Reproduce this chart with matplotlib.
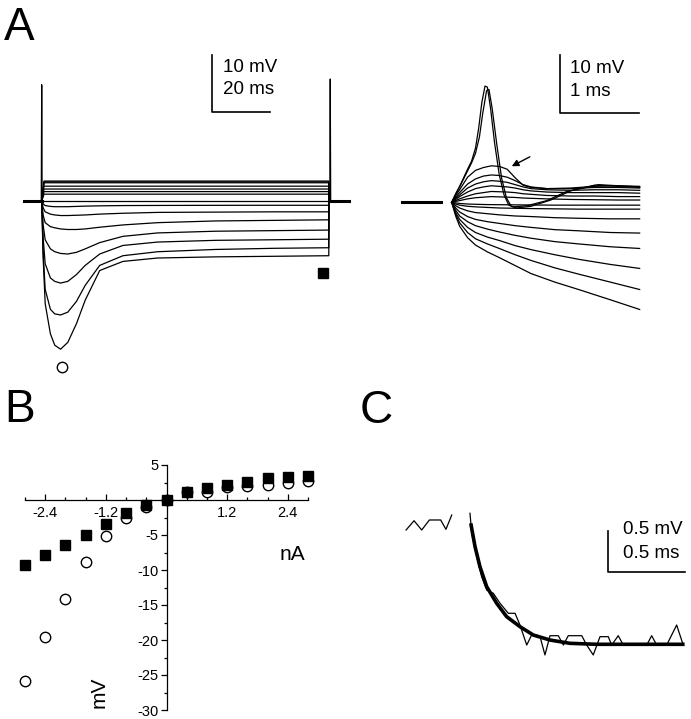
import matplotlib.pyplot as plt

plt.rcParams['font.family'] = ['Liberation Sans', 'DejaVu Sans']

W, H = 691, 719

# ---------------- Panel A (left): 100 ms current steps, time in ms, voltage in mV
a_pre_t = [-6, 0]
a_post_t = [99, 106]
# depolarising / zero steps: steady-state level
a_dep_levels = [3.5, 3.35, 3.2, 2.6, 2.1, 1.65, 1.2, 0.0]
# hyperpolarising steps: common time samples and voltages
a_hyp_t = [0, 0.5, 1.2, 3, 4.5, 6.5, 9, 12, 15, 20, 28, 40, 60, 80, 99]
a_hyp_v = [
    [0, -10, -18, -23.3, -25.3, -26, -24.8, -21.5, -17.4, -12.2, -10.6, -10.0, -9.8, -9.7, -9.6],
    [0, -9, -15.5, -19, -19.8, -20, -19.5, -17.6, -14.8, -11.3, -9.6, -8.9, -8.5, -8.3, -8.2],
    [0, -6.5, -11, -13.5, -14.1, -14.4, -14.1, -12.9, -11.3, -9.3, -7.8, -7.2, -6.9, -6.8, -6.7],
    [0, -4.2, -6.8, -8.4, -8.9, -9.2, -9.3, -9.0, -8.4, -7.3, -6.2, -5.6, -5.3, -5.2, -5.1],
    [0, -2.5, -3.8, -4.5, -4.7, -4.9, -5.0, -5.0, -4.9, -4.6, -4.2, -3.8, -3.5, -3.4, -3.3],
    [0, -1.2, -1.9, -2.3, -2.45, -2.55, -2.55, -2.5, -2.45, -2.3, -2.15, -2.0, -1.95, -1.9, -1.9],
    [0, -0.5, -0.8, -0.95, -1.0, -1.0, -1.0, -0.95, -0.9, -0.85, -0.8, -0.78, -0.76, -0.75, -0.75],
]
a_art_t = [[-0.15, 0, 0.15], [99.35, 99.5, 99.65]]
a_art_v = [[0, 20.4, 0], [0, 21.4, 0]]

# ---------------- Panel A (right): first 2.4 ms of the steps
r_pre_t = [-0.63, -0.13]
r_hyp_t = [0, 0.05, 0.1, 0.2, 0.3, 0.45, 0.6, 0.8, 1.0, 1.3, 1.6, 2.0, 2.37]
r_hyp_v = [
    [0, -2.4, -4.2, -6.2, -7.5, -8.7, -9.7, -11.1, -12.5, -14.0, -15.3, -17.1, -18.8],
    [0, -2.1, -3.6, -5.3, -6.4, -7.3, -8.1, -9.2, -10.2, -11.5, -12.6, -14.0, -15.3],
    [0, -1.8, -3.0, -4.4, -5.3, -6.1, -6.7, -7.6, -8.3, -9.2, -10.0, -10.9, -11.6],
    [0, -1.4, -2.4, -3.4, -4.1, -4.7, -5.2, -5.8, -6.3, -6.9, -7.3, -7.8, -8.1],
    [0, -1.0, -1.7, -2.5, -3.0, -3.4, -3.7, -4.1, -4.4, -4.8, -5.0, -5.3, -5.4],
    [0, -0.6, -1.0, -1.5, -1.8, -2.0, -2.2, -2.4, -2.5, -2.7, -2.8, -2.9, -2.9],
    [0, -0.3, -0.5, -0.7, -0.8, -0.9, -1.0, -1.05, -1.1, -1.15, -1.2, -1.2, -1.2],
    [0, -0.1, -0.2, -0.3, -0.35, -0.4, -0.42, -0.45, -0.47, -0.5, -0.5, -0.5, -0.5],
]
r_sub_t = [0, 0.05, 0.1, 0.2, 0.3, 0.4, 0.5, 0.6, 0.7, 0.8, 0.9, 1.0, 1.2, 1.5, 1.8, 2.1, 2.37]
r_sub_v = [
    [0, 1.2, 2.2, 4.4, 5.6, 6.1, 6.4, 6.3, 5.8, 4.3, 3.0, 2.6, 2.4, 2.5, 2.8, 2.9, 2.8],
    [0, 0.9, 1.7, 3.2, 4.1, 4.6, 4.8, 4.7, 4.4, 3.8, 3.1, 2.7, 2.4, 2.4, 2.6, 2.6, 2.5],
    [0, 0.7, 1.3, 2.5, 3.2, 3.6, 3.8, 3.7, 3.5, 3.1, 2.7, 2.4, 2.2, 2.1, 2.2, 2.2, 2.1],
    [0, 0.5, 1.0, 1.8, 2.4, 2.7, 2.9, 2.8, 2.7, 2.5, 2.2, 2.0, 1.8, 1.7, 1.7, 1.7, 1.6],
    [0, 0.3, 0.6, 1.1, 1.5, 1.7, 1.9, 1.85, 1.8, 1.7, 1.5, 1.4, 1.2, 1.1, 1.1, 1.0, 1.0],
    [0, 0.15, 0.3, 0.6, 0.8, 0.9, 1.0, 0.95, 0.9, 0.85, 0.75, 0.7, 0.6, 0.5, 0.45, 0.4, 0.4],
]
r_spk1_t = [0, 0.05, 0.1, 0.15, 0.2, 0.25, 0.3, 0.34, 0.38, 0.42, 0.45, 0.49, 0.54, 0.6,
            0.66, 0.72, 0.78, 0.95, 1.2, 1.45, 1.8, 2.1, 2.37]
r_spk1_v = [0, 1.5, 2.8, 4.3, 5.8, 7.2, 9.5, 13, 17.5, 20.4, 20.2, 16.5, 10.5, 4.8,
            1.3, -0.5, -0.8, -0.6, 0.3, 1.9, 3.0, 2.8, 2.6]
r_spk2_t = [0, 0.05, 0.1, 0.15, 0.2, 0.25, 0.3, 0.35, 0.39, 0.44, 0.47, 0.51, 0.57, 0.63,
            0.69, 0.75, 0.82, 1.0, 1.25, 1.5, 1.85, 2.1, 2.37]
r_spk2_v = [0, 1.4, 2.7, 4.1, 5.5, 6.9, 8.6, 11.5, 15.5, 19.6, 19.8, 16.5, 10.0, 4.2,
            0.8, -0.7, -1.0, -0.7, 0.4, 2.0, 3.1, 2.9, 2.7]

# ---------------- Panel B: V-I relation
b_current = [-2.8, -2.4, -2.0, -1.6, -1.2, -0.8, -0.4, 0, 0.4, 0.8, 1.2, 1.6, 2.0, 2.4, 2.8]
b_peak = [-25.8, -19.6, -14.1, -8.8, -5.15, -2.55, -1.0, 0, 1.1, 1.2, 1.9, 2.0, 2.1, 2.5, 2.7]
b_steady = [-9.3, -7.8, -6.4, -5.0, -3.4, -1.9, -0.75, 0, 1.2, 1.65, 2.1, 2.6, 3.2, 3.35, 3.5]
b_xticks = [-2.4, -1.2, 1.2, 2.4]
b_yticks = [5, -5, -10, -15, -20, -25, -30]

# ---------------- Panel C: exponential fit of the decay
c_pre_t = [-0.417, -0.365, -0.315, -0.265, -0.191, -0.157, -0.119]
c_pre_v = [1.394, 1.507, 1.394, 1.516, 1.516, 1.402, 1.577]
c_raw_t = [0, 0.011, 0.044, 0.076, 0.109, 0.152, 0.196, 0.25, 0.294, 0.326, 0.37, 0.402,
           0.435, 0.457, 0.489, 0.522, 0.576, 0.609, 0.641, 0.729, 0.761, 0.804, 0.848,
           0.902, 0.924, 0.967, 1.0, 1.153, 1.185, 1.218, 1.283, 1.348, 1.391]
c_raw_v = [1.598, 1.354, 1.068, 0.824, 0.662, 0.622, 0.5, 0.378, 0.378, 0.235, -0.009, 0.113,
           0.113, 0.093, -0.13, 0.105, 0.105, -0.009, 0.105, 0.105, -0.009, -0.13, 0.093,
           0.093, -0.009, 0.105, -0.009, -0.009, 0.105, -0.009, -0.009, 0.235, -0.009]
c_fit_t = [0.005, 0.033, 0.065, 0.109, 0.174, 0.239, 0.326, 0.413, 0.522, 0.652, 0.826, 1.40]
c_fit_v = [1.476, 1.19, 0.946, 0.702, 0.5, 0.337, 0.215, 0.113, 0.052, 0.012, 0.0, 0.0]

fig = plt.figure(figsize=(6.91, 7.19), dpi=100)


def overlay(x0, sx, y0, sy):
    # transparent full-figure axes, origin at pixel (x0, y0), sx px per x unit, sy px per y unit
    ax = fig.add_axes([0, 0, 1, 1])
    ax.set_axis_off()
    ax.set_xlim(-x0 / sx, (W - x0) / sx)
    ax.set_ylim((y0 - H) / sy, y0 / sy)
    return ax


lw = 0.9
txt = 13.5

# ---- A left
axA = overlay(41.7, 2.9, 201, 5.7)
axA.plot(a_pre_t, [0, 0], color='black', lw=2.2)
for lev in a_dep_levels:
    axA.plot([0, 0.8, 99, 99, 100], [0, lev, lev, 0, 0], color='black', lw=lw)
for vals in a_hyp_v:
    axA.plot(a_hyp_t + [99], vals + [0], color='black', lw=lw)
axA.plot(a_post_t, [0, 0], color='black', lw=2.2)
for t, v in zip(a_art_t, a_art_v):
    axA.plot(t, v, color='black', lw=lw)
axA.plot([6.9], [-29.1], 'o', ms=7.5, mfc='white', mec='black', mew=1)
axA.plot([97.1], [-12.6], 's', ms=7.5, color='black')
axA.plot([58.7, 58.7, 78.7], [25.7, 15.6, 15.6], color='black', lw=1.2)
axA.text(62.4, 24.9, '10 mV', fontsize=txt, va='top')
axA.text(62.4, 21.0, '20 ms', fontsize=txt, va='top')

# ---- A right
axR = overlay(451.7, 79.3, 202.3, 5.7)
axR.plot(r_pre_t, [0, 0], color='black', lw=2.2)
for vals in r_hyp_v:
    axR.plot(r_hyp_t, vals, color='black', lw=lw)
for vals in r_sub_v:
    axR.plot(r_sub_t, vals, color='black', lw=lw)
axR.plot(r_spk1_t, r_spk1_v, color='black', lw=lw)
axR.plot(r_spk2_t, r_spk2_v, color='black', lw=lw)
axR.annotate('', xy=(0.726, 6.1), xytext=(1.016, 8.2),
             arrowprops=dict(arrowstyle='-|>', lw=1, color='black', mutation_scale=10))
axR.plot([1.366, 1.366, 2.366], [25.8, 15.7, 15.7], color='black', lw=1.2)
axR.text(1.49, 24.9, '10 mV', fontsize=txt, va='top')
axR.text(1.49, 21.0, '1 ms', fontsize=txt, va='top')

# ---- B
axB = fig.add_axes([25 / W, 1 - 710 / H, 283 / W, 245 / H])
axB.plot(b_current, b_peak, 'o', ms=7.5, mfc='white', mec='black', mew=1, clip_on=False, zorder=3)
axB.plot(b_current, b_steady, 's', ms=7.5, color='black', clip_on=False, zorder=4)
axB.set_xlim(-2.8, 2.8)
axB.set_ylim(-30, 5)
axB.spines['left'].set_position(('data', 0))
axB.spines['bottom'].set_position(('data', 0))
axB.spines['top'].set_visible(False)
axB.spines['right'].set_visible(False)
for s in ('left', 'bottom'):
    axB.spines[s].set_linewidth(0.9)
axB.set_xticks(b_xticks)
axB.set_xticks([x / 10 for x in range(-28, 29, 4)], minor=True)
axB.set_yticks(b_yticks)
axB.set_yticks([y / 2 for y in range(-60, 11, 5)], minor=True)
axB.set_xticklabels([f'{x:g}' for x in b_xticks])
axB.set_yticklabels([f'{y:g}' for y in b_yticks])
axB.tick_params(axis='x', which='both', direction='in', labelsize=10.5, pad=4)
axB.tick_params(axis='y', which='both', direction='out', labelsize=10.5, pad=2)
axB.tick_params(which='major', length=4, width=0.9)
axB.tick_params(which='minor', length=2.5, width=0.9)
axB.patch.set_alpha(0)
fig.text(292 / W, 1 - 555 / H, 'nA', fontsize=15, ha='center', va='center')
fig.text(99 / W, 1 - 692 / H, 'mV', fontsize=15, ha='center', va='center', rotation=90)

# ---- C
axC = overlay(470, 153.3, 644.3, 82)
axC.plot(c_pre_t, c_pre_v, color='black', lw=lw)
axC.plot(c_raw_t, c_raw_v, color='black', lw=lw)
axC.plot(c_fit_t, c_fit_v, color='black', lw=2.6, solid_capstyle='butt')
axC.plot([0.902, 0.902, 1.402], [1.385, 0.885, 0.885], color='black', lw=1.2)
axC.text(0.996, 1.5, '0.5 mV', fontsize=txt, va='top')
axC.text(0.996, 1.215, '0.5 ms', fontsize=txt, va='top')

# ---- panel letters
for lab, x, y in [('A', 4, 40), ('B', 4.5, 422), ('C', 360, 423)]:
    fig.text(x / W, 1 - y / H, lab, fontsize=33, va='baseline', ha='left')

fig.savefig('out.png', dpi=100)
